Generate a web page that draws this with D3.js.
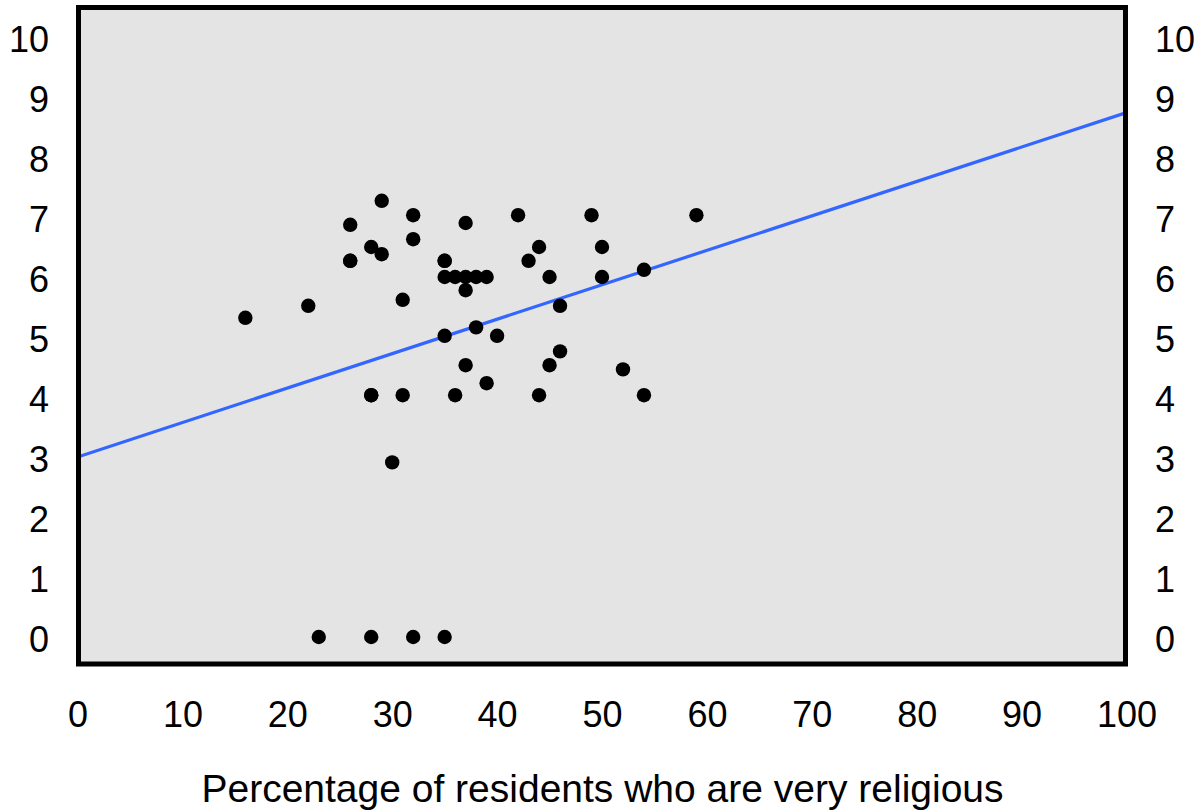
<!DOCTYPE html>
<html>
<head>
<meta charset="utf-8">
<script src="https://cdn.jsdelivr.net/npm/d3@7"></script>
<style>
  html, body { margin: 0; padding: 0; background: #fff; }
  #chart { width: 1204px; height: 812px; }
</style>
</head>
<body>
<div id="chart"></div>
<script>
// percentage of very religious residents (x) and rating (y)
var religiousPct = [16, 22, 26, 26, 26, 28, 28, 28, 29, 29, 30, 31, 31, 32, 32, 35, 35, 35, 35, 36, 36,
  37, 37, 37, 37, 38, 38, 39, 39, 40, 42, 43, 44, 44, 45, 45, 46, 46, 49, 50, 50, 52, 54, 54, 59,
  23, 28, 32, 35];
var rating = [5.32, 5.52, 6.87, 6.27, 6.27, 6.5, 4.03, 4.03, 7.27, 6.38, 2.91, 5.62, 4.03, 7.03, 6.63,
  6.27, 6.0, 5.02, 6.27, 6.0, 4.03,
  6.9, 6.0, 5.78, 4.53, 6.0, 5.16, 6.0, 4.23, 5.02, 7.03, 6.27, 6.5, 4.03, 6.0, 4.53, 5.52, 4.76,
  7.03, 6.5, 6.0, 4.46, 6.12, 4.03, 7.03,
  0, 0, 0, 0];
// fitted line end points
var fitX = [0, 100];
var fitY = [3.0, 8.74];
var xTicks = [0, 10, 20, 30, 40, 50, 60, 70, 80, 90, 100];
var yTicks = [0, 1, 2, 3, 4, 5, 6, 7, 8, 9, 10];
var xTitle = "Percentage of residents who are very religious";

function ScatterChart(){
    var width = 1204, height = 812;
    var frame = {left: 78.5, right: 1125.5, top: 7.5, bottom: 664};
    var font = "'Liberation Sans', Arial, sans-serif";

    function chart(selection){
        selection.each(function(){
            var el = d3.select(this);
            el.html("");
            var svg = el.append('svg').attr('width', width).attr('height', height);

            var xs = d3.scaleLinear().domain([0, 100]).range([77.5, 1126.5]);
            var ys = d3.scaleLinear().domain([0, 10]).range([637, 37]);

            // plot background
            svg.append('rect')
                .attr('x', frame.left).attr('y', frame.top)
                .attr('width', frame.right - frame.left)
                .attr('height', frame.bottom - frame.top)
                .attr('fill', '#e4e4e4');

            svg.append('clipPath').attr('id', 'plotclip')
                .append('rect')
                .attr('x', frame.left).attr('y', frame.top)
                .attr('width', frame.right - frame.left)
                .attr('height', frame.bottom - frame.top);

            var plot = svg.append('g').attr('clip-path', 'url(#plotclip)');

            // regression line
            var line = d3.line()
                .x(function(d, i){ return xs(fitX[i]); })
                .y(function(d, i){ return ys(fitY[i]); });
            plot.append('path')
                .datum(fitX)
                .attr('d', line)
                .attr('fill', 'none')
                .attr('stroke', '#3366ff')
                .attr('stroke-width', 3.2);

            // points
            plot.selectAll('circle.pt').data(religiousPct).enter().append('circle')
                .attr('class', 'pt')
                .attr('cx', function(d){ return xs(d); })
                .attr('cy', function(d, i){ return ys(rating[i]); })
                .attr('r', 7.2)
                .attr('fill', '#000');

            // frame
            svg.append('rect')
                .attr('x', frame.left).attr('y', frame.top)
                .attr('width', frame.right - frame.left)
                .attr('height', frame.bottom - frame.top)
                .attr('fill', 'none')
                .attr('stroke', '#000')
                .attr('stroke-width', 5);

            // axes, no tick marks, just labels
            var left = svg.append('g')
                .attr('transform', 'translate(' + frame.left + ',0)')
                .call(d3.axisLeft(ys).tickValues(yTicks).tickSize(0).tickPadding(29.5));
            var right = svg.append('g')
                .attr('transform', 'translate(' + frame.right + ',0)')
                .call(d3.axisRight(ys).tickValues(yTicks).tickSize(0).tickPadding(29.5));
            var bottom = svg.append('g')
                .attr('transform', 'translate(0,' + frame.bottom + ')')
                .call(d3.axisBottom(xs).tickValues(xTicks).tickSize(0).tickPadding(37.4));

            [left, right, bottom].forEach(function(ax){
                ax.select('.domain').remove();
                ax.attr('font-family', font).attr('font-size', 36);
                ax.selectAll('text').attr('fill', '#000');
            });
            left.selectAll('.tick text').attr('y', 3);
            right.selectAll('.tick text').attr('y', 3);

            svg.append('text')
                .attr('x', 602.5)
                .attr('y', 801.5)
                .attr('text-anchor', 'middle')
                .attr('font-family', font)
                .attr('font-size', 39)
                .attr('fill', '#000')
                .text(xTitle);
        });
    }
    return chart;
}

d3.select('#chart').call(ScatterChart());
</script>
</body>
</html>
